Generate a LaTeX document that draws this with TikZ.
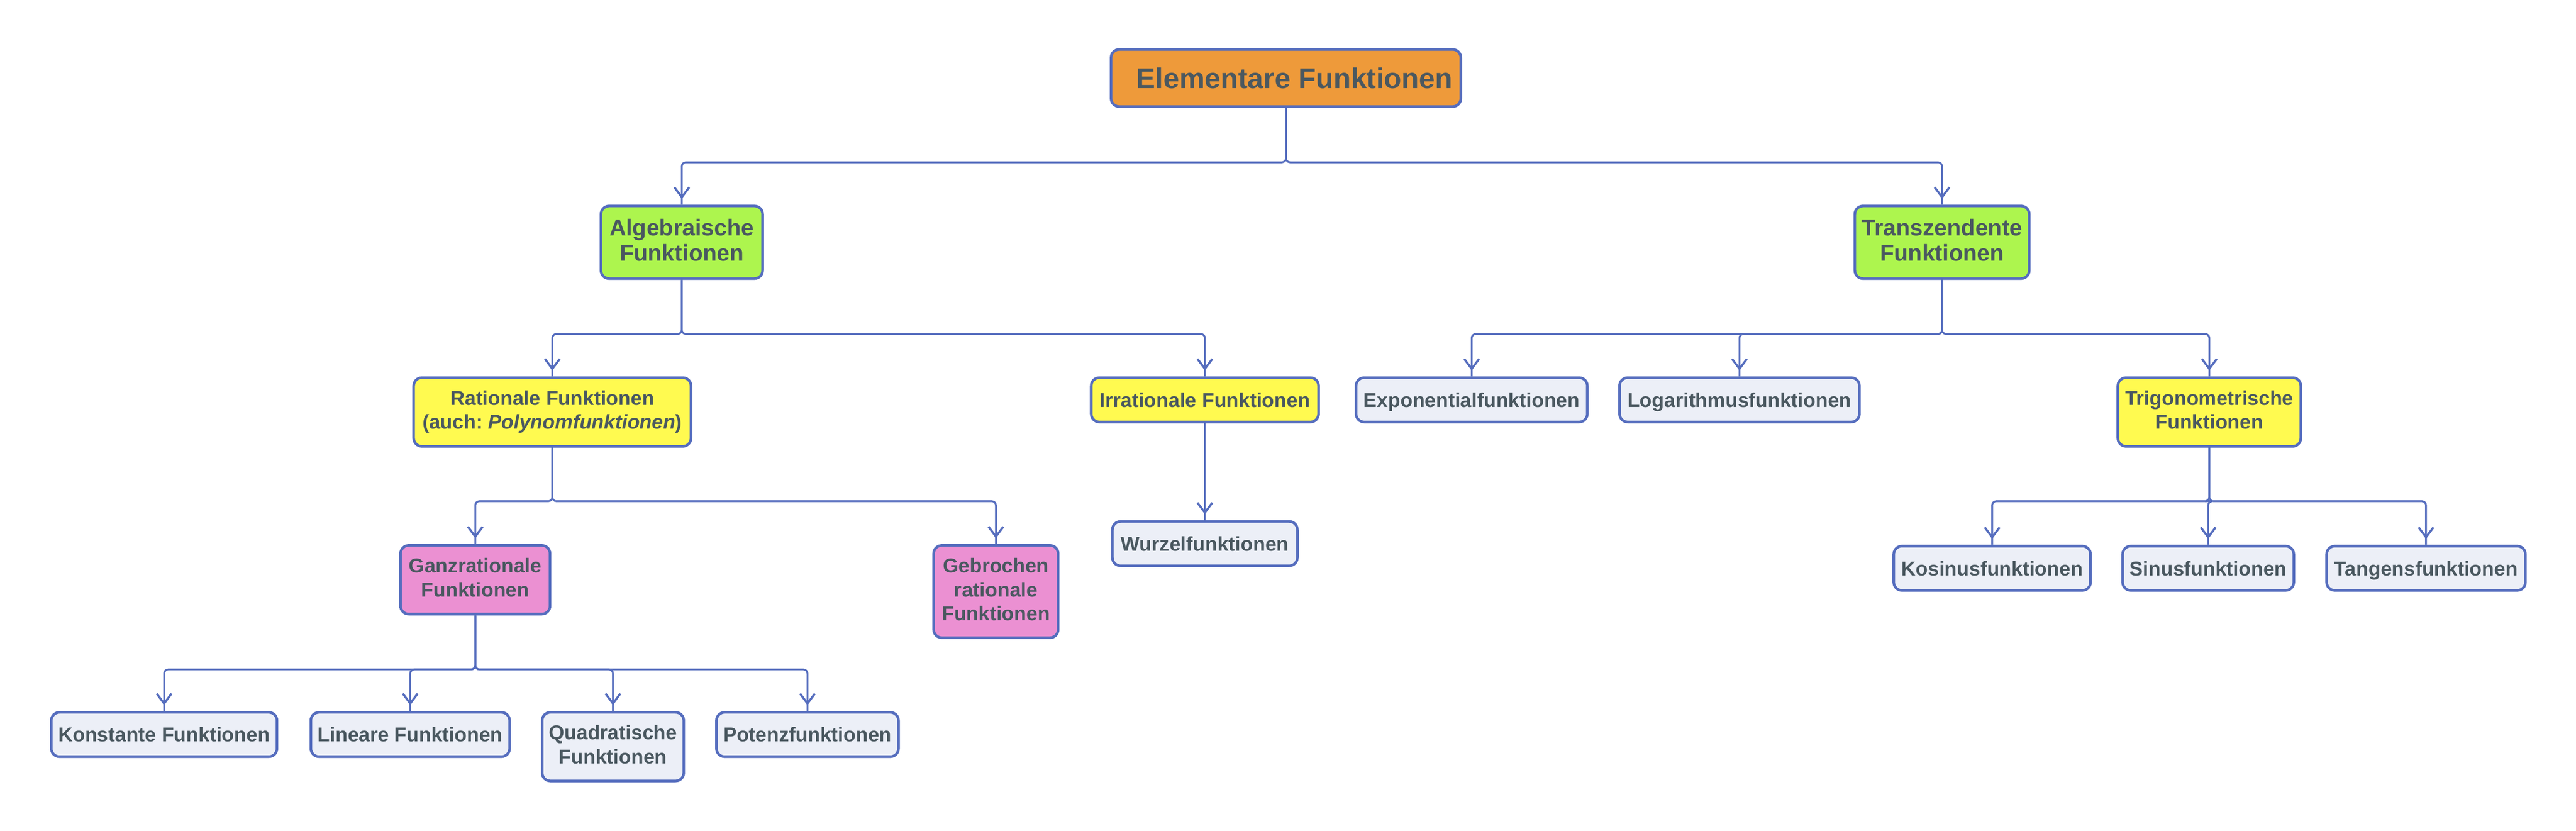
\documentclass[tikz,border=0pt]{standalone}
\usepackage{fontspec}
\setmainfont{Liberation Sans}
\frenchspacing
\usetikzlibrary{arrows.meta,decorations.markings}
\definecolor{edgeblue}{HTML}{556DBE}
\definecolor{txtgray}{HTML}{4A5860}
\definecolor{fillorange}{HTML}{EE9A3A}
\definecolor{fillgreen}{HTML}{ADF54E}
\definecolor{fillyellow}{HTML}{FFFA50}
\definecolor{fillpink}{HTML}{EB90D2}
\definecolor{filllight}{HTML}{ECEFF7}
\begin{document}
\begin{tikzpicture}[x=1pt,y=-1pt,
  box/.style={draw=edgeblue, line width=1.6pt, rounded corners=5pt, inner sep=0pt,
    anchor=north, align=center, text=txtgray,
    execute at begin node={\rule{0pt}{0.94em}},
    execute at end node={\rule[-0.22em]{0pt}{0.22em}},
    font=\bfseries\fontsize{12.2}{14.6}\selectfont},
  lvltop/.style={box, fill=fillorange, font=\bfseries\fontsize{17.4}{20}\selectfont},
  lvltwo/.style={box, fill=fillgreen, font=\bfseries\fontsize{14}{15.4}\selectfont},
  yellowbox/.style={box, fill=fillyellow},
  pinkbox/.style={box, fill=fillpink},
  leafbox/.style={box, fill=filllight},
  one/.style={minimum height=27pt},
  two/.style={minimum height=41.8pt},
  conn/.style={color=edgeblue, line width=1.1pt, rounded corners=2.5pt,
    postaction={decorate},
    decoration={markings, mark=at position -3.5pt with {\arrow[line width=1.3pt]{Straight Barb[length=6pt,width=9pt]}}}},
]
\fill[white] (0,0) rectangle (1568,505.6);
\useasboundingbox (0,0) rectangle (1568,505.6);

% bus levels
\coordinate (b1) at (0,98.8);
\coordinate (b2) at (0,203.3);
\coordinate (b3) at (0,305.1);
\coordinate (b4) at (0,407.5);

% nodes
\node[lvltop, minimum width=212.9pt, minimum height=34.8pt] (top) at (782.75,29.3) {\hspace*{10.4pt}Elementare Funktionen};

\node[lvltwo, minimum width=98.4pt, minimum height=44.2pt] (alg) at (415,124.6) {Algebraische\\Funktionen};
\node[lvltwo, minimum width=106.2pt, minimum height=44.2pt] (trans) at (1182.1,124.6) {Transzendente\\Funktionen};

\node[yellowbox, two, minimum width=168.8pt] (rat) at (336.2,229.1) {Rationale Funktionen\\(auch: \textit{Polynomfunktionen})};
\node[yellowbox, one, minimum width=138.4pt] (irr) at (733.4,229.1) {Irrationale Funktionen};
\node[leafbox, one, minimum width=140.8pt] (expf) at (895.8,229.1) {Exponentialfunktionen};
\node[leafbox, one, minimum width=146pt] (logf) at (1058.8,229.1) {Logarithmusfunktionen};
\node[yellowbox, two, minimum width=111.4pt] (trig) at (1344.8,229.1) {Trigonometrische\\Funktionen};

\node[pinkbox, two, minimum width=91pt] (ganz) at (289.3,331.2) {Ganzrationale\\Funktionen};
\node[pinkbox, minimum width=75.8pt, minimum height=56.2pt] (gebr) at (606.2,331.2) {Gebrochen\\rationale\\Funktionen};
\node[leafbox, one, minimum width=112.6pt] (wurz) at (733.4,316.6) {Wurzelfunktionen};
\node[leafbox, one, minimum width=119.8pt] (kos) at (1212.6,331.6) {Kosinusfunktionen};
\node[leafbox, one, minimum width=104.2pt] (sinf) at (1344.1,331.6) {Sinusfunktionen};
\node[leafbox, one, minimum width=121pt] (tanf) at (1476.7,331.6) {Tangensfunktionen};

\node[leafbox, one, minimum width=137.4pt] (konst) at (99.9,432.8) {Konstante Funktionen};
\node[leafbox, one, minimum width=121pt] (lin) at (249.7,432.8) {Lineare Funktionen};
\node[leafbox, two, minimum width=86.2pt] (quad) at (373.1,432.8) {Quadratische\\Funktionen};
\node[leafbox, one, minimum width=110.8pt] (pot) at (491.5,432.8) {Potenzfunktionen};

% connectors
\draw[conn] (top.south) |- (alg.north |- b1) -- (alg.north);
\draw[conn] (top.south) |- (trans.north |- b1) -- (trans.north);

\draw[conn] (alg.south) |- (rat.north |- b2) -- (rat.north);
\draw[conn] (alg.south) |- (irr.north |- b2) -- (irr.north);
\draw[conn] (trans.south) |- (expf.north |- b2) -- (expf.north);
\draw[conn] (trans.south) |- (logf.north |- b2) -- (logf.north);
\draw[conn] (trans.south) |- (trig.north |- b2) -- (trig.north);

\draw[conn] (rat.south) |- (ganz.north |- b3) -- (ganz.north);
\draw[conn] (rat.south) |- (gebr.north |- b3) -- (gebr.north);
\draw[conn] (irr.south) -- (wurz.north);
\draw[conn] (trig.south) |- (kos.north |- b3) -- (kos.north);
\draw[conn] (trig.south) |- (sinf.north |- b3) -- (sinf.north);
\draw[conn] (trig.south) |- (tanf.north |- b3) -- (tanf.north);

\draw[conn] (ganz.south) |- (konst.north |- b4) -- (konst.north);
\draw[conn] (ganz.south) |- (lin.north |- b4) -- (lin.north);
\draw[conn] (ganz.south) |- (quad.north |- b4) -- (quad.north);
\draw[conn] (ganz.south) |- (pot.north |- b4) -- (pot.north);
\end{tikzpicture}
\end{document}
